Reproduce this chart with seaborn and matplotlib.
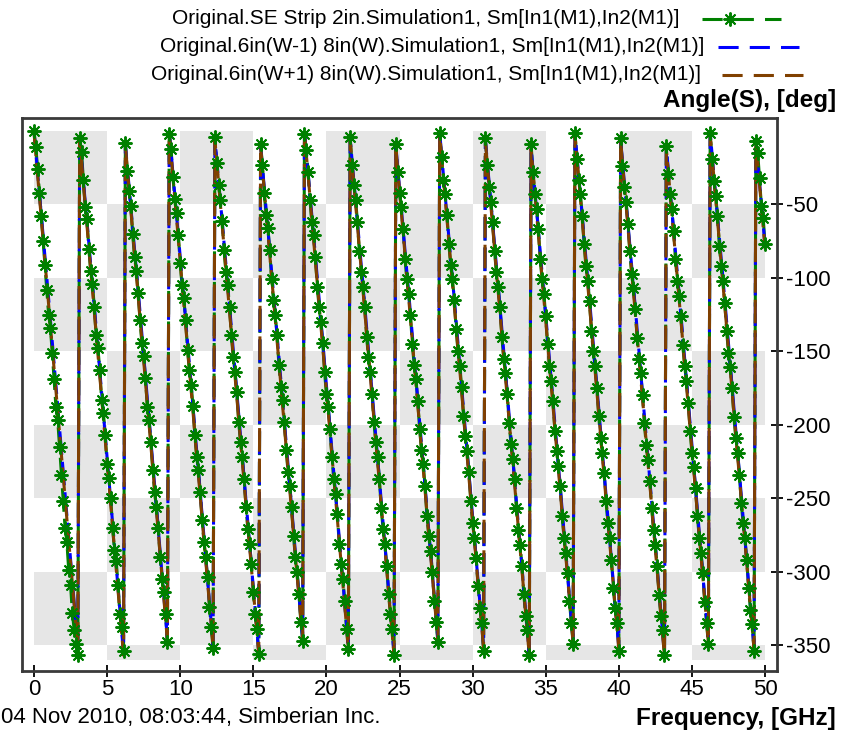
import numpy as np
import pandas as pd
import matplotlib
matplotlib.use("Agg")
import matplotlib.pyplot as plt
from matplotlib.lines import Line2D
from matplotlib.patches import Rectangle
import seaborn as sns

# ---------------------------------------------------------------- data
# Frequency sweep of the SE strip simulation, GHz
SWEEP_START, SWEEP_STOP, SWEEP_POINTS = 0.0, 50.0, 401

# Original.SE Strip 2in: wrapped phase of S21, one list per 360-degree turn
se_strip_turns = [
    [0, -11, -26, -42, -58, -75, -91, -108, -125, -134, -151, -169, -188, -197, -215, -234, -252, -270, -280, -299, -309, -328, -340, -349, -357],
    [-5, -14, -33, -52, -60, -80, -95, -104, -120, -139, -148, -163, -183, -192, -207, -227, -236, -250, -270, -285, -293, -309, -329, -338, -354],
    [-8, -27, -41, -51, -70, -86, -95, -110, -129, -144, -153, -168, -188, -197, -212, -231, -246, -256, -270, -290, -305, -314, -329, -348],
    [-2, -12, -31, -46, -56, -71, -90, -105, -114, -129, -149, -163, -173, -187, -207, -222, -231, -246, -265, -280, -290, -304, -324, -338, -352],
    [-4, -22, -37, -47, -61, -81, -96, -105, -120, -139, -154, -164, -178, -198, -212, -222, -237, -256, -271, -281, -295, -314, -329, -339, -356],
    [-9, -23, -42, -57, -66, -81, -101, -115, -125, -139, -159, -174, -183, -198, -217, -232, -242, -256, -276, -290, -300, -315, -334, -347],
    [-2, -13, -28, -47, -62, -71, -86, -106, -120, -130, -144, -164, -179, -188, -203, -222, -237, -247, -261, -281, -295, -305, -320, -339, -353],
    [-4, -23, -37, -47, -62, -82, -96, -106, -120, -140, -154, -164, -179, -198, -212, -222, -237, -257, -271, -281, -296, -315, -329, -339, -357],
    [-9, -28, -42, -52, -67, -87, -101, -111, -125, -145, -159, -169, -184, -203, -217, -227, -242, -262, -276, -286, -300, -320, -334, -348],
    [-1, -18, -33, -43, -57, -77, -91, -101, -115, -135, -150, -160, -174, -194, -208, -218, -232, -252, -267, -277, -291, -310, -325, -335, -354],
    [-5, -23, -38, -48, -62, -82, -96, -106, -120, -140, -155, -165, -179, -199, -213, -223, -237, -257, -272, -282, -296, -315, -330, -340, -357],
    [-9, -28, -43, -53, -67, -87, -101, -111, -126, -145, -160, -170, -184, -204, -218, -228, -242, -262, -277, -287, -301, -320, -335, -349],
    [-1, -19, -33, -43, -58, -77, -92, -102, -116, -136, -150, -160, -175, -194, -209, -219, -233, -252, -267, -277, -292, -311, -325, -335, -354],
    [-5, -24, -38, -48, -63, -82, -97, -107, -121, -141, -155, -165, -180, -199, -214, -224, -238, -257, -272, -282, -296, -316, -330, -340, -357],
    [-10, -29, -43, -53, -68, -87, -102, -112, -126, -146, -160, -170, -185, -204, -219, -229, -243, -262, -277, -287, -301, -321, -335, -349],
    [-1, -19, -34, -44, -58, -78, -92, -102, -117, -136, -151, -161, -175, -195, -209, -219, -234, -253, -267, -277, -292, -311, -326, -336, -354],
    [-7, -15, -32, -51, -59, -77],
]
se_strip_angle = [a for turn in se_strip_turns for a in turn]

# Original.6in(W-1) 8in(W) and Original.6in(W+1) 8in(W): phase vertices
w_freq = [
    0, 1.0, 2.0, 3.0,
    3.125, 4.125, 5.125, 6.125,
    6.25, 7.25, 8.25, 9.125,
    9.25, 10.25, 11.25, 12.25,
    12.375, 13.375, 14.375, 15.375,
    15.5, 16.5, 17.5, 18.375,
    18.5, 19.5, 20.5, 21.5,
    21.625, 22.625, 23.625, 24.625,
    24.75, 25.75, 26.75, 27.625,
    27.75, 28.75, 29.75, 30.75,
    30.875, 31.875, 32.875, 33.875,
    34.0, 35.0, 36.0, 36.875,
    37.0, 38.0, 39.0, 40.0,
    40.125, 41.125, 42.125, 43.125,
    43.25, 44.25, 45.25, 46.125,
    46.25, 47.25, 48.25, 49.25,
    49.375, 50.0,
]
w_minus_angle = [
    0, -114, -232, -351,
    -5, -119, -237, -356,
    -9, -123, -241, -346,
    0, -114, -232, -350,
    -5, -119, -237, -355,
    -10, -124, -242, -346,
    0, -114, -232, -351,
    -5, -119, -237, -356,
    -10, -124, -242, -346,
    -1, -115, -233, -351,
    -6, -120, -238, -356,
    -11, -125, -243, -347,
    -1, -115, -233, -352,
    -6, -120, -238, -357,
    -11, -125, -243, -347,
    -1, -115, -233, -352,
    -6, -78,
]
w_plus_angle = [
    -1, -118, -235, -352,
    -6, -123, -240, -357,
    -10, -127, -244, -347,
    -1, -118, -235, -351,
    -6, -123, -240, -356,
    -11, -128, -245, -347,
    -1, -118, -235, -352,
    -6, -123, -240, -357,
    -11, -128, -245, -347,
    -2, -119, -236, -352,
    -7, -124, -241, -357,
    -12, -129, -246, -348,
    -2, -119, -236, -353,
    -7, -124, -241, -358,
    -12, -129, -246, -348,
    -2, -119, -236, -353,
    -7, -80,
]

series_labels = [
    "Original.SE Strip 2in.Simulation1, Sm[In1(M1),In2(M1)]",
    "Original.6in(W-1) 8in(W).Simulation1, Sm[In1(M1),In2(M1)]",
    "Original.6in(W+1) 8in(W).Simulation1, Sm[In1(M1),In2(M1)]",
]
x_ticks = [0, 5, 10, 15, 20, 25, 30, 35, 40, 45, 50]
y_ticks = [-50, -100, -150, -200, -250, -300, -350]
y_label = "Angle(S), [deg]"
x_label = "Frequency, [GHz]"
stamp = "04 Nov 2010, 08:03:44, Simberian Inc."

# ---------------------------------------------------------------- style
GREEN, BLUE, BROWN = "#008000", "#0000ff", "#804000"
CELL_GRAY = "#e6e6e6"
FRAME = "#3a3a3a"
FONT = ["Liberation Sans Narrow", "Liberation Sans", "DejaVu Sans"]

sns.set_theme(style="white")
plt.rcParams["font.family"] = FONT
plt.rcParams["axes.unicode_minus"] = False
plt.rcParams["lines.scale_dashes"] = False

W, H = 844, 731


def fx(px):
    return px / W


def fy(py):
    return 1 - py / H


fig = plt.figure(figsize=(W / 100, H / 100), dpi=100)
ax = fig.add_axes([fx(22), fy(671), (777 - 22) / W, (671 - 118) / H])
ax.set_xlim(-0.82, 50.82)
ax.set_ylim(-367.7, 8.9)

# checkerboard background between grid lines
x_edges = x_ticks
y_edges = [0] + y_ticks + [-360]
for i in range(len(y_edges) - 1):
    for j in range(len(x_edges) - 1):
        if (i + j) % 2 == 0:
            ax.add_patch(Rectangle((x_edges[j], y_edges[i + 1]),
                                   x_edges[j + 1] - x_edges[j],
                                   y_edges[i] - y_edges[i + 1],
                                   facecolor=CELL_GRAY, edgecolor="none", zorder=0))

LW = 2.2
DASH = (17, 5)
freq = np.linspace(SWEEP_START, SWEEP_STOP, SWEEP_POINTS)
green_df = pd.DataFrame({"freq": freq, "angle": se_strip_angle})
minus_df = pd.DataFrame({"freq": w_freq, "angle": w_minus_angle})
plus_df = pd.DataFrame({"freq": w_freq, "angle": w_plus_angle})

common = dict(x="freq", y="angle", ax=ax, sort=False, estimator=None, legend=False)
sns.lineplot(data=green_df, color=GREEN, lw=LW, linestyle=(6, DASH), zorder=2, **common)
sns.lineplot(data=minus_df, color=BLUE, lw=LW, linestyle=(3, DASH), zorder=3, **common)
sns.lineplot(data=plus_df, color=BROWN, lw=LW, linestyle=(0, DASH), zorder=4, **common)
# asterisk markers of the SE strip series on top of the lines
sns.lineplot(data=green_df, color=GREEN, linestyle="none", marker=(8, 2, 0),
             markersize=10, markeredgewidth=1.4, markeredgecolor=GREEN,
             zorder=5, **common)
sns.lineplot(data=green_df, color=GREEN, linestyle="none", marker="o",
             markersize=3.8, markeredgewidth=0, zorder=6, **common)

ax.set_xlabel("")
ax.set_ylabel("")
ax.set_xticks(x_ticks)
ax.set_yticks(y_ticks)
ax.set_xticklabels([str(t) for t in x_ticks])
ax.set_yticklabels([str(t) for t in y_ticks])
ax.yaxis.tick_right()
ax.tick_params(axis="x", direction="inout", length=9, width=1.3, colors="black",
               labelsize=16, pad=1, bottom=True)
ax.tick_params(axis="y", direction="inout", length=9, width=1.3, colors="black",
               labelsize=16, pad=2, right=True, left=False)
for side in ["left", "right", "top", "bottom"]:
    ax.spines[side].set_visible(True)
    ax.spines[side].set_color(FRAME)
    ax.spines[side].set_linewidth(2.0)
ax.grid(False)

# axis titles and time stamp
fig.text(fx(836), fy(101), y_label, ha="right", va="center", fontsize=17.5,
         fontweight="bold", color="black")
fig.text(fx(836), fy(718), x_label, ha="right", va="center", fontsize=17.5,
         fontweight="bold", color="black")
fig.text(fx(1), fy(718), stamp, ha="left", va="center", fontsize=16, color="black")

# legend rows: label on the left, line sample on the right
rows = [
    (series_labels[0], 679, 19, 702, 781, GREEN),
    (series_labels[1], 704, 47, 718, 799, BLUE),
    (series_labels[2], 701, 75, 722, 803, BROWN),
]
for text, tx, ty, x0, x1, col in rows:
    fig.text(fx(tx), fy(ty), text, ha="right", va="center", fontsize=15, color="black")
    fig.add_artist(Line2D([fx(x0), fx(x1)], [fy(ty), fy(ty)], transform=fig.transFigure,
                          color=col, lw=LW, linestyle=(0, (14.5, 8))))
fig.add_artist(Line2D([fx(730)], [fy(19)], transform=fig.transFigure, color=GREEN,
                      marker=(8, 2, 0), markersize=10, markeredgewidth=1.4,
                      markeredgecolor=GREEN, linestyle="none"))

fig.savefig("out.png", dpi=100)
